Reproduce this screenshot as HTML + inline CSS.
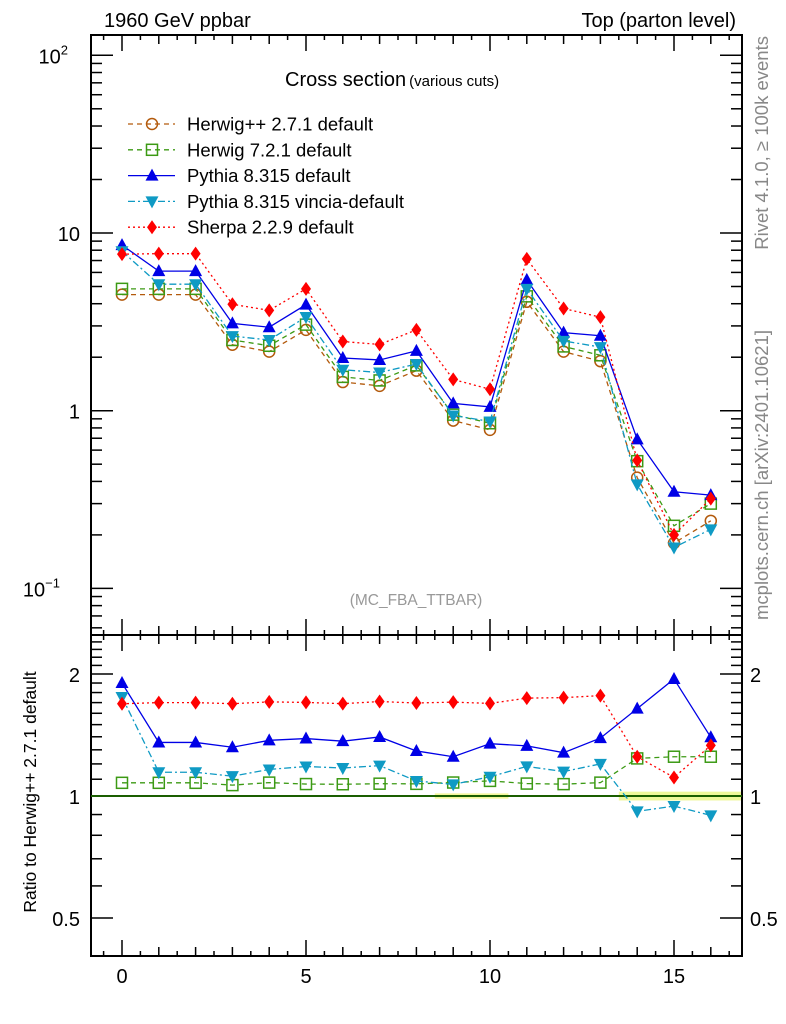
<!DOCTYPE html>
<html><head><meta charset="utf-8"><style>
body{margin:0;background:#fff;}
svg{display:block;font-family:"Liberation Sans",sans-serif;}
</style></head><body>
<svg id="c" width="786" height="1024" xmlns="http://www.w3.org/2000/svg"></svg>
<script>
const xs=[0,1,2,3,4,5,6,7,8,9,10,11,12,13,14,15,16];
const herwigpp=[4.5,4.5,4.5,2.35,2.15,2.85,1.45,1.38,1.68,0.88,0.78,4.1,2.15,1.9,0.42,0.18,0.24];
const herwig7=[4.85,4.85,4.85,2.5,2.32,3.05,1.55,1.48,1.8,0.95,0.85,4.4,2.3,2.05,0.52,0.225,0.3];
const pythia=[8.55,6.1,6.1,3.1,2.95,3.95,1.98,1.93,2.17,1.1,1.05,5.45,2.75,2.64,0.69,0.35,0.335];
const vincia=[7.9,5.15,5.15,2.63,2.5,3.37,1.7,1.64,1.83,0.94,0.87,4.85,2.47,2.28,0.385,0.17,0.215];
const sherpa=[7.6,7.65,7.65,3.97,3.67,4.85,2.45,2.36,2.85,1.5,1.32,7.15,3.76,3.36,0.525,0.2,0.32];
const xTicks=[0,5,10,15];

const S=document.getElementById('c'),NS='http://www.w3.org/2000/svg';
function el(t,a,p){const e=document.createElementNS(NS,t);for(const k in a)e.setAttribute(k,a[k]);(p||S).appendChild(e);return e;}
const L=91,R=742,T=35,M=635,B=956;
const X=v=>122+(v)*36.8;
const Y=v=>233-(Math.log10(v)-1)*177.7;
const YR=v=>796-Math.log2(v)*122;

let b=el('rect',{x:X(8.5),y:YR(1.015),width:X(10.5)-X(8.5),height:YR(0.985)-YR(1.015),fill:'#f4f79a'});

b=el('rect',{x:X(13.5),y:YR(1.025),width:R-X(13.5),height:YR(0.975)-YR(1.025),fill:'#eef79a'});


let f=el('rect',{x:L,y:T,width:R-L,height:M-T,fill:'none',stroke:'#000','stroke-width':2});

f=el('rect',{x:L,y:M,width:R-L,height:B-M,fill:'none',stroke:'#000','stroke-width':2});


const tk=el('g',{stroke:'#000','stroke-width':1.5});

for(let v=-0.5;v<=16.8;v+=0.5){
  const x=X(v);const maj=xTicks.includes(v),int=Number.isInteger(v);
  const len=maj?16:int?9:5;
  [[T,1],[M,-1],[M,1],[B,-1]].forEach(([y,d])=>el('line',{x1:x,x2:x,y1:y,y2:y+d*len},tk));
}
for(let e=-2;e<=2;e++)for(let m=1;m<10;m++){
  const v=m*Math.pow(10,e),y=Y(v);if(y<T||y>M)continue;
  const len=m==1?22:11;
  el('line',{x1:L,x2:L+len,y1:y,y2:y},tk);el('line',{x1:R,x2:R-len,y1:y,y2:y},tk);
}
for(let v=0.4;v<2.55;v+=0.1){
  const r=Math.round(v*10)/10,y=YR(r);if(y<M||y>B)continue;
  const maj=(r==0.5||r==1||r==2),len=maj?22:11;
  el('line',{x1:L,x2:L+len,y1:y,y2:y},tk);el('line',{x1:R,x2:R-len,y1:y,y2:y},tk);
}
let ln=el('line',{x1:L,x2:R,y1:YR(1),y2:YR(1),stroke:'#1a5e00','stroke-width':2});


function txt(s,a,name){const t=el('text',a);t.textContent=s;return t;}
xTicks.forEach(v=>txt(v,{x:X(v),y:983,'font-size':20,'text-anchor':'middle'},'x-tick-label'));
let t=txt('10',{x:68,y:Y(100)+8,'font-size':20,'text-anchor':'end'},'y-tick-label');
el('tspan',{dy:-9,'font-size':13},t).textContent='2';
txt('10',{x:80,y:Y(10)+8,'font-size':20,'text-anchor':'end'},'y-tick-label');
txt('1',{x:80,y:Y(1)+8,'font-size':20,'text-anchor':'end'},'y-tick-label');
t=txt('10',{x:60,y:Y(0.1)+8,'font-size':20,'text-anchor':'end'},'y-tick-label');
el('tspan',{dy:-9,'font-size':13},t).textContent='−1';
[[2,'2'],[1,'1'],[0.5,'0.5']].forEach(([v,s])=>{
  txt(s,{x:80,y:YR(v)+8,'font-size':20,'text-anchor':'end'},'ratio-tick-label');
  txt(s,{x:750,y:YR(v)+8,'font-size':20},'ratio-tick-label-right');
});
txt('1960 GeV ppbar',{x:104,y:27,'font-size':20},'energy-label');
txt('Top (parton level)',{x:736,y:27,'font-size':20,'text-anchor':'end'},'process-label');
t=txt('Cross section',{x:285,y:86,'font-size':20},'plot-title');
el('tspan',{'font-size':15,dx:3},t).textContent='(various cuts)';
txt('(MC_FBA_TTBAR)',{x:416,y:605,'font-size':15.5,fill:'#999','text-anchor':'middle'},'analysis-name');
txt('Rivet 4.1.0, ≥ 100k events',{x:0,y:0,'font-size':18.5,fill:'#888','text-anchor':'end',transform:'translate(768,36) rotate(-90)'},'rivet-version');
txt('mcplots.cern.ch [arXiv:2401.10621]',{x:0,y:0,'font-size':18.5,fill:'#888','text-anchor':'end',transform:'translate(768,330) rotate(-90)'},'mcplots-credit');
txt('Ratio to Herwig++ 2.7.1 default',{x:0,y:0,'font-size':17.5,'text-anchor':'middle',transform:'translate(36,792) rotate(-90)'},'ratio-y-axis-title');

const series=[
 {name:'Herwig++ 2.7.1 default',d:herwigpp,c:'#b35a0c',dash:'5,4',m:'circle',id:'herwigpp'},
 {name:'Herwig 7.2.1 default',d:herwig7,c:'#3c9a14',dash:'5,4',m:'square',id:'herwig7'},
 {name:'Pythia 8.315 default',d:pythia,c:'#0000e6',dash:'',m:'up',id:'pythia'},
 {name:'Pythia 8.315 vincia-default',d:vincia,c:'#0f9ac4',dash:'7,3,2,3',m:'down',id:'vincia'},
 {name:'Sherpa 2.2.9 default',d:sherpa,c:'#ff0000',dash:'2,3',m:'diamond',id:'sherpa'}];
function marker(g,m,x,y,c){
  if(m=='circle')return el('circle',{cx:x,cy:y,r:5.5,fill:'none',stroke:c,'stroke-width':1.5},g);
  if(m=='square')return el('rect',{x:x-5.5,y:y-5.5,width:11,height:11,fill:'none',stroke:c,'stroke-width':1.5},g);
  if(m=='up')return el('polygon',{points:`${x},${y-7} ${x-6.5},${y+5} ${x+6.5},${y+5}`,fill:c},g);
  if(m=='down')return el('polygon',{points:`${x},${y+7} ${x-6.5},${y-5} ${x+6.5},${y-5}`,fill:c},g);
  return el('polygon',{points:`${x},${y-7} ${x-5},${y} ${x},${y+7} ${x+5},${y}`,fill:c},g);
}
series.forEach((s,i)=>{
  const g=el('g',{});
  
  
  const pts=xs.map((x,j)=>X(x)+','+Y(s.d[j])).join(' ');
  el('polyline',{points:pts,fill:'none',stroke:s.c,'stroke-width':1.3,'stroke-dasharray':s.dash},g);
  xs.forEach((x,j)=>{const mk=marker(g,s.m,X(x),Y(s.d[j]),s.c);
    
    });
  if(i>0){
    const rg=el('g',{});
    
    
    const rp=xs.map((x,j)=>X(x)+','+YR(s.d[j]/herwigpp[j])).join(' ');
    el('polyline',{points:rp,fill:'none',stroke:s.c,'stroke-width':1.3,'stroke-dasharray':s.dash},rg);
    xs.forEach((x,j)=>{const mk=marker(rg,s.m,X(x),YR(s.d[j]/herwigpp[j]),s.c);
      
      });
  }
  const ly=124+i*25.8;
  const lg=el('g',{});
  
  
  el('line',{x1:128,x2:175,y1:ly,y2:ly,stroke:s.c,'stroke-width':1.3,'stroke-dasharray':s.dash},lg);
  marker(lg,s.m,152,ly,s.c);
  const lt=el('text',{x:187,y:ly+6.5,'font-size':18.5},lg);lt.textContent=s.name;
});
</script>
</body></html>
